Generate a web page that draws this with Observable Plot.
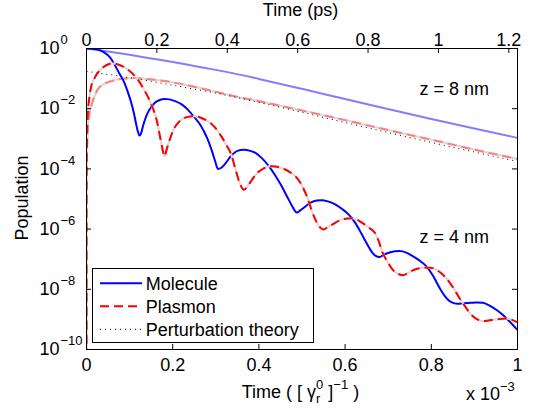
<!DOCTYPE html>
<html><head><meta charset="utf-8">
<script src="https://cdn.jsdelivr.net/npm/d3@7"></script>
<script src="https://cdn.jsdelivr.net/npm/@observablehq/plot@0.6"></script>
<style>body{margin:0;background:#fff;} svg{display:block}</style>
</head><body><div id="chart"></div>
<script>
// time in units of 1e-3 [gamma_r^0]^-1, value = log10(population)
const molecule4 = [[0,0],[0.02,-0.02],[0.04,-0.12],[0.055,-0.3],[0.065,-0.53],[0.075,-0.8],[0.088,-1.14],[0.096,-1.45],[0.104,-1.81],[0.110,-2.15],[0.115,-2.5],[0.119,-2.75],[0.123,-2.89],[0.127,-2.8],[0.131,-2.58],[0.136,-2.35],[0.142,-2.14],[0.150,-1.95],[0.158,-1.81],[0.170,-1.71],[0.181,-1.68],[0.192,-1.69],[0.204,-1.74],[0.220,-1.85],[0.235,-2.03],[0.250,-2.28],[0.266,-2.58],[0.280,-2.98],[0.290,-3.36],[0.298,-3.72],[0.305,-4.0],[0.312,-3.97],[0.320,-3.86],[0.336,-3.56],[0.350,-3.4],[0.365,-3.36],[0.380,-3.4],[0.392,-3.47],[0.408,-3.66],[0.423,-3.91],[0.438,-4.22],[0.453,-4.58],[0.465,-4.91],[0.477,-5.23],[0.488,-5.45],[0.496,-5.38],[0.504,-5.29],[0.520,-5.12],[0.534,-5.05],[0.546,-5.04],[0.560,-5.08],[0.577,-5.18],[0.593,-5.33],[0.608,-5.51],[0.624,-5.8],[0.639,-6.18],[0.652,-6.52],[0.664,-6.8],[0.672,-6.9],[0.679,-6.93],[0.690,-6.85],[0.705,-6.77],[0.726,-6.73],[0.742,-6.78],[0.757,-6.9],[0.772,-7.04],[0.788,-7.23],[0.804,-7.55],[0.819,-7.95],[0.831,-8.22],[0.842,-8.39],[0.852,-8.46],[0.861,-8.48],[0.875,-8.46],[0.890,-8.45],[0.905,-8.44],[0.919,-8.45],[0.935,-8.54],[0.950,-8.67],[0.965,-8.84],[0.981,-9.06],[1.0,-9.35]];
const plasmon4 = [[0,-14],[0.0001,-5.3],[0.0003,-4.3],[0.001,-3.2],[0.003,-2.2],[0.006,-1.7],[0.011,-1.25],[0.018,-1.0],[0.026,-0.81],[0.034,-0.68],[0.042,-0.59],[0.05,-0.53],[0.057,-0.5],[0.065,-0.5],[0.073,-0.53],[0.085,-0.6],[0.096,-0.7],[0.108,-0.85],[0.119,-1.03],[0.13,-1.28],[0.142,-1.59],[0.15,-1.85],[0.158,-2.14],[0.164,-2.45],[0.169,-2.81],[0.175,-3.25],[0.181,-3.58],[0.186,-3.35],[0.193,-3.03],[0.204,-2.64],[0.215,-2.43],[0.227,-2.31],[0.24,-2.26],[0.251,-2.25],[0.265,-2.3],[0.282,-2.42],[0.298,-2.62],[0.313,-2.92],[0.325,-3.22],[0.336,-3.53],[0.345,-3.98],[0.355,-4.45],[0.365,-4.69],[0.375,-4.55],[0.384,-4.36],[0.395,-4.15],[0.407,-4.02],[0.418,-3.94],[0.43,-3.91],[0.445,-3.94],[0.461,-4.02],[0.473,-4.12],[0.485,-4.25],[0.497,-4.48],[0.508,-4.8],[0.516,-5.1],[0.523,-5.4],[0.531,-5.68],[0.539,-5.9],[0.545,-5.98],[0.55,-6.01],[0.56,-5.93],[0.571,-5.84],[0.593,-5.68],[0.616,-5.64],[0.628,-5.69],[0.639,-5.79],[0.655,-5.95],[0.669,-6.12],[0.678,-6.4],[0.687,-6.78],[0.699,-7.1],[0.71,-7.34],[0.722,-7.48],[0.734,-7.53],[0.745,-7.47],[0.757,-7.37],[0.777,-7.29],[0.796,-7.28],[0.815,-7.38],[0.834,-7.62],[0.85,-7.93],[0.865,-8.28],[0.88,-8.6],[0.896,-8.89],[0.908,-9.01],[0.919,-9.06],[0.935,-9.03],[0.95,-9.0],[0.974,-8.97],[0.99,-9.03],[1.0,-9.1]];
const molecule8 = [[0,0],[0.05,-0.1],[0.1,-0.21],[0.15,-0.33],[0.2,-0.45],[0.25,-0.58],[0.3,-0.71],[0.336,-0.81],[0.4,-1.01],[0.5,-1.34],[0.6,-1.68],[0.669,-1.91],[0.8,-2.34],[0.9,-2.66],[1.0,-2.97]];
const plasmon8 = [[0,-14],[0.0001,-5.6],[0.0003,-4.7],[0.001,-3.6],[0.003,-2.69],[0.006,-2.25],[0.011,-1.92],[0.018,-1.6],[0.026,-1.36],[0.04,-1.18],[0.057,-1.09],[0.075,-1.02],[0.09,-1.0],[0.111,-0.98],[0.13,-1.0],[0.15,-1.03],[0.19,-1.1],[0.227,-1.2],[0.28,-1.37],[0.336,-1.56],[0.4,-1.75],[0.5,-2.06],[0.6,-2.38],[0.7,-2.71],[0.8,-3.03],[0.9,-3.36],[1.0,-3.67]];
const perturbation8 = [[0,-0.76],[0.05,-0.86],[0.1,-0.97],[0.15,-1.09],[0.2,-1.22],[0.25,-1.35],[0.3,-1.48],[0.336,-1.59],[0.4,-1.79],[0.5,-2.12],[0.6,-2.46],[0.669,-2.69],[0.8,-3.12],[0.9,-3.44],[1.0,-3.75]];

const xTicks = [0, 0.2, 0.4, 0.6, 0.8, 1];
const psTicks = [0, 0.2, 0.4, 0.6, 0.8, 1, 1.2];
const psPerUnit = 1.2246; // ps per 1e-3 [gamma_r^0]^-1
const yTicks = [1, 1e-2, 1e-4, 1e-6, 1e-8, 1e-10];
const legendLabels = ["Molecule", "Plasmon", "Perturbation theory"];
const annotations = [{label: "z = 8 nm", t: 0.7725, logP: -1.53}, {label: "z = 4 nm", t: 0.7725, logP: -6.46}];

const rows = s => s.map(([t, l]) => ({t, p: Math.pow(10, l)}));
const W = 542, H = 415, mL = 86, mR = 25, mT = 48, mB = 66;
const pw = W - mL - mR, ph = H - mT - mB;
const font = "'Liberation Sans', Arial, Helvetica, sans-serif";
const C = {mol: "#0000ff", pl: "#ff0000", mol8: "#7f7fff", pl8: "#ff7f7f", under: "#d9d9d9", pert: "#000000"};
const dash = "9,5", dot = "1,4";
const ln = (data, o) => Plot.line(rows(data), {x: "t", y: "p", curve: "monotone-x", clip: true, strokeLinecap: "butt", ...o});
const posTicks = psTicks.map(p => p / psPerUnit);
const fmt = d => String(+d.toFixed(1));
const expStr = d => { const e = Math.round(Math.log10(d)); return e < 0 ? "\u2212" + (-e) : String(e); };

const plot = Plot.plot({
  width: W, height: H, marginLeft: mL, marginRight: mR, marginTop: mT, marginBottom: mB,
  style: `font-family:${font};font-size:18px;background:#fff;color:#000;overflow:visible;`,
  x: {domain: [0, 1], axis: null},
  y: {type: "log", domain: [1e-10, 1], axis: null},
  marks: [
    ln(molecule8, {stroke: C.mol8, strokeWidth: 2}),
    ln(plasmon8, {stroke: C.under, strokeWidth: 2.2}),
    ln(plasmon8, {stroke: C.pl8, strokeWidth: 2, strokeDasharray: dash}),
    ln(perturbation8, {stroke: C.pert, strokeWidth: 1, strokeDasharray: dot}),
    ln(molecule4, {stroke: C.mol, strokeWidth: 2}),
    ln(plasmon4, {stroke: C.under, strokeWidth: 2.2}),
    ln(plasmon4, {stroke: C.pl, strokeWidth: 2, strokeDasharray: dash}),
    Plot.axisX(xTicks, {anchor: "bottom", tickSize: 0, tickPadding: 9, tickFormat: fmt, fontSize: 18, label: null}),
    Plot.axisX(posTicks, {anchor: "top", tickSize: 0, tickPadding: 3, tickFormat: d => fmt(d * psPerUnit), fontSize: 18, label: null}),
    Plot.ruleX(xTicks, {x: d => d, insetTop: ph - 5, stroke: "#000"}),
    Plot.ruleX(posTicks, {x: d => d, insetBottom: ph - 5, stroke: "#000"}),
    Plot.ruleY(yTicks, {y: d => d, insetRight: pw - 5, stroke: "#000"}),
    Plot.ruleY(yTicks, {y: d => d, insetLeft: pw - 5, stroke: "#000"}),
    Plot.text(yTicks, {y: d => d, frameAnchor: "left", text: () => "10", dx: -47, textAnchor: "start", fontSize: 18}),
    Plot.text(yTicks, {y: d => d, frameAnchor: "left", text: expStr, dx: -26, dy: -8.5, textAnchor: "start", fontSize: 13}),
    Plot.text(annotations, {x: "t", y: d => Math.pow(10, d.logP), text: "label", textAnchor: "start", lineAnchor: "bottom", fontSize: 18}),
    Plot.frame({stroke: "#000"})
  ]
});
document.getElementById("chart").appendChild(plot);

const svg = d3.select(plot);
const g = svg.append("g").attr("font-family", font).attr("fill", "#000");
g.append("text").attr("x", 300.5).attr("y", 16).attr("text-anchor", "middle").attr("font-size", 18).text("Time (ps)");
g.append("text").attr("transform", "translate(28,198) rotate(-90)").attr("text-anchor", "middle").attr("font-size", 18).text("Population");
const bt = g.append("text").attr("x", 241.7).attr("y", 398).attr("text-anchor", "start").attr("font-size", 18);
bt.append("tspan").text("Time ( [ \u03b3");
bt.append("tspan").attr("dy", 5).attr("font-size", 13).text("r");
bt.append("tspan").attr("dx", -4.3).attr("dy", -14).attr("font-size", 13).text("0");
bt.append("tspan").attr("dy", 9).text(" ]");
bt.append("tspan").attr("dy", -9).attr("font-size", 13).text("\u22121");
bt.append("tspan").attr("dy", 9).text(" )");
const xe = g.append("text").attr("x", 466).attr("y", 400).attr("text-anchor", "start").attr("font-size", 18);
xe.append("tspan").text("x 10");
xe.append("tspan").attr("dy", -9).attr("font-size", 13).text("\u22123");

// legend
const lg = svg.append("g").attr("font-family", font).attr("text-anchor", "start");
lg.append("rect").attr("x", 92.5).attr("y", 268.5).attr("width", 221).attr("height", 74).attr("fill", "#fff").attr("stroke", "#000");
const lgStyle = [
  {stroke: C.mol, w: 2, d: null},
  {stroke: C.pl, w: 2, d: dash},
  {stroke: C.pert, w: 1, d: dot}
];
legendLabels.forEach((label, i) => {
  const cy = 283.3 + i * 23;
  const s = lgStyle[i];
  lg.append("line").attr("x1", 100).attr("x2", 142).attr("y1", cy).attr("y2", cy)
    .attr("stroke", s.stroke).attr("stroke-width", s.w).attr("stroke-dasharray", s.d);
  lg.append("text").attr("x", 145.7).attr("y", cy + 6.3).attr("text-anchor", "start").attr("font-size", 18).attr("fill", "#000").text(label);
});
</script>
</body></html>
